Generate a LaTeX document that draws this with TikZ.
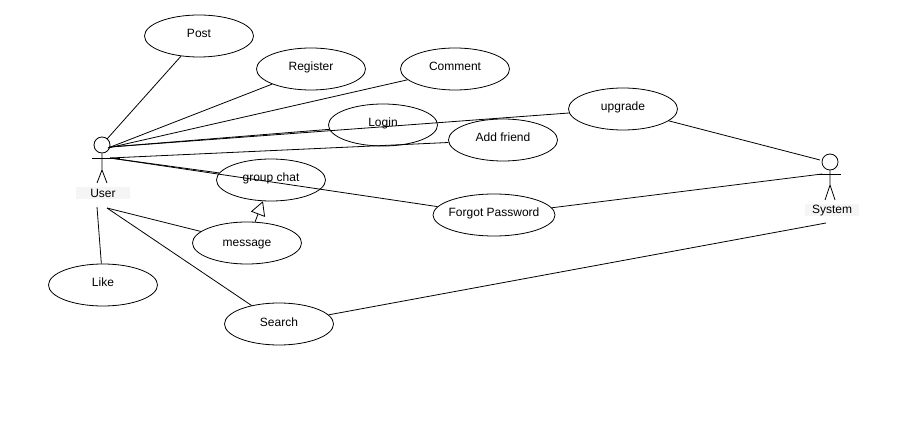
\documentclass[tikz,border=0pt]{standalone}
\usepackage{fontspec}
\setmainfont{Liberation Sans}
\usetikzlibrary{positioning, calc, shapes, arrows.meta}
\tikzset{
	usecase/.style = {draw, ellipse, minimum width = 109pt, minimum height = 42pt, inner sep = 0pt, font = \fontsize{12}{14}\selectfont},
	head/.style = {draw, circle, minimum size = 16pt, inner sep = 0pt},
	actorname/.style = {fill = black!4, minimum width = 54pt, minimum height = 12pt, inner sep = 0pt, font = \fontsize{12}{14}\selectfont},
	assoc/.style = {draw},
	inherit/.style = {assoc, -{Triangle[open, length = 14pt, width = 15pt]}}
}
\begin{document}
\begin{tikzpicture}[x = 1pt, y = -1pt, line width = 0.8pt]
	\useasboundingbox (0,0) rectangle (909,430);
	% use cases
	\node[usecase] (post) at (199,36) {\raisebox{5pt}{Post}};
	\node[usecase] (register) at (311,69) {\raisebox{5pt}{Register}};
	\node[usecase] (comment) at (455,69) {\raisebox{5pt}{Comment}};
	\node[usecase] (login) at (383,125) {\raisebox{6pt}{Login}};
	\node[usecase] (addfriend) at (503,140) {\raisebox{5pt}{Add friend}};
	\node[usecase] (upgrade) at (623,109) {\raisebox{6pt}{upgrade}};
	\node[usecase] (groupchat) at (271,180) {\raisebox{6pt}{group chat}};
	\node[usecase, minimum width = 122pt] (forgot) at (494,215) {\raisebox{6pt}{\makebox[60pt]{Forgot Password}}};
	\node[usecase] (message) at (247,243) {\raisebox{-4pt}[0pt][0pt]{message}};
	\node[usecase] (like) at (103,285) {\raisebox{6pt}{Like}};
	\node[usecase] (search) at (279,324) {\raisebox{3pt}{Search}};
	% actors
	\node[head] (userhead) at (102,145) {};
	\node[head] (systemhead) at (830,162) {};
	\node[actorname] (username) at (103,193) {User};
	\node[actorname] (systemname) at (832,210.5) {System};
	\draw (userhead.south) -- (102,170) -- (97,183) (102,170) -- (107,183);
	\draw (92,158.5) -- (120,158.5);
	\draw (systemhead.south) -- (830,185) -- (825,200) (830,185) -- (835,200);
	\draw (817,174) -- (841,174);
	% free ends of the connectors
	\coordinate (userA) at (107,139);
	\coordinate (userB) at (108,148);
	\coordinate (userC) at (110,147);
	\coordinate (userD) at (110,158);
	\coordinate (userE) at (107,208);
	\coordinate (userF) at (97,207);
	\coordinate (systemA) at (820,160);
	\coordinate (systemB) at (822,174);
	\coordinate (systemC) at (826,223);
	% connectors
	\path[assoc] (userA) -- (post);
	\path[assoc] (userB) -- (register);
	\path[assoc] (userB) -- (comment);
	\path[assoc] (userC) -- (login);
	\path[assoc] (userC) -- (upgrade);
	\path[assoc] (userD) -- (addfriend);
	\path[assoc] (userD) -- (groupchat);
	\path[assoc] (userD) -- (forgot);
	\path[assoc] (userE) -- (message);
	\path[assoc] (userE) -- (search);
	\path[assoc] (userF) -- (like);
	\path[assoc] (upgrade) -- (systemA);
	\path[assoc] (forgot) -- (systemB);
	\path[assoc] (search) -- (systemC);
	\path[inherit] (message) -- (groupchat);
\end{tikzpicture}
\end{document}
